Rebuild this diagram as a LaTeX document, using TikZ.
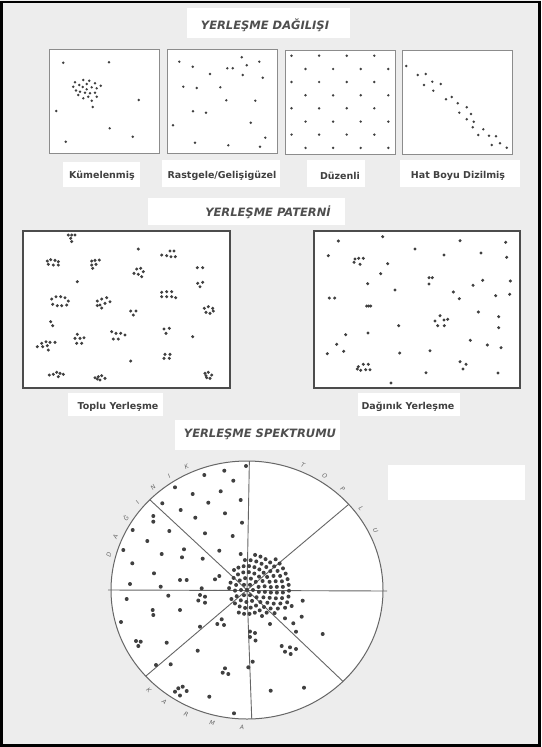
\documentclass[tikz,border=0pt]{standalone}
\usepackage{fontspec}
\setmainfont{DejaVu Sans}

\definecolor{paper}{HTML}{EDEDED}
\definecolor{ink}{HTML}{404040}
\definecolor{headink}{HTML}{4E4E4E}
\definecolor{framegray}{HTML}{8C8C8C}

\begin{document}
\begin{tikzpicture}[x=1pt, y=-1pt,
    heading/.style={font=\fontsize{11.5}{13}\selectfont\bfseries\itshape, text=headink},
    caption/.style={font=\fontsize{9.5}{12}\selectfont\bfseries, text=ink},
    paperpatch/.style={fill=white},
    panel/.style={draw=framegray, line width=1pt, fill=white, inner sep=0pt},
    bigpanel/.style={draw=black!70, line width=1.2pt, fill=white, inner sep=0pt},
    spoke/.style={draw=black!60, line width=0.9pt},
    ringletter/.style={font=\fontsize{6}{7}\selectfont\itshape, text=black!60, inner sep=0pt},
    pdot/.style={fill=black!75},
]
    \useasboundingbox (0,0) rectangle (541,747);
    \fill[paper] (0,0) rectangle (541,747);
    \draw[line width=2.5pt] (1.5,2) rectangle (539.5,745.5);

    % white strips behind the texts
    \fill[paperpatch] (187,8) rectangle (350,38);
    \fill[paperpatch] (63,162) rectangle (140,187);
    \fill[paperpatch] (162,160) rectangle (280,187);
    \fill[paperpatch] (307,160) rectangle (365,187);
    \fill[paperpatch] (400,160) rectangle (520,187);
    \fill[paperpatch] (148,198) rectangle (345,225);
    \fill[paperpatch] (68,393) rectangle (163,416);
    \fill[paperpatch] (358,393) rectangle (460,416);
    \fill[paperpatch] (175,420) rectangle (340,450);
    \fill[paperpatch] (388,465) rectangle (525,500);

    % titles
    \node[heading] (titleDist) at (265,25) {YERLEŞME DAĞILIŞI};
    \node[heading] (titlePat) at (268,212) {YERLEŞME PATERNİ};
    \node[heading] (titleSpec) at (260,434) {YERLEŞME SPEKTRUMU};

    % distribution panels
    \node[panel, minimum width=110pt, minimum height=104pt] (kume) at (104,101) {};
    \node[panel, minimum width=110pt, minimum height=104pt] (rast) at (222,101) {};
    \node[panel, minimum width=110pt, minimum height=104pt] (duz) at (340,102) {};
    \node[panel, minimum width=110pt, minimum height=104pt] (hat) at (457,102) {};

    \node[caption] (kumeLbl) at (102,176) {Kümelenmiş};
    \node[caption] (rastLbl) at (222,176) {Rastgele/Gelişigüzel};
    \node[caption] (duzLbl) at (340,176) {Düzenli};
    \node[caption] (hatLbl) at (458,176) {Hat Boyu Dizilmiş};

    % Kumelenmis
    \foreach \p in {(63.3,62.7),(109,62.3),(138.7,100),(56.3,111),(109.7,128.3),(132.7,136.7),(65.7,141.7),(92.7,107),
        (75,82.3),(73.3,86.7),(76,90.5),(79.3,85),(83.3,80),(89.3,80.7),(95,83.3),(100.7,85.7),(82.7,87),(86.7,89.3),
        (91.7,87.3),(96.7,88.3),(80,91.7),(85,92.7),(90,93.3),(95,92.7),(78.3,95),(83.3,98.3),(88.3,96.7),(91.7,100.7),
        (96.7,96.7),(86.7,84)}
        \fill[pdot] \p circle (1.35pt);

    % Rastgele
    \foreach \p in {(179.3,61.7),(192.7,66.7),(241.7,57.3),(246.7,65.3),(259.3,61.7),(227.3,68.3),(232.7,68.3),(210,74),
        (242.7,75),(262.7,77.7),(183.3,86.7),(196.7,88),(220.3,87.3),(226.3,100.3),(255.3,100.7),(193,111.3),(206,112.7),
        (173,125.3),(250.7,122.7),(265.3,137.7),(195,142.7),(228.3,145.3),(260,146.7)}
        \fill[pdot] \p circle (1.35pt);

    % Duzenli
    \foreach \i in {0,...,3}
        \foreach \j in {0,...,3} {
            \fill[pdot] ({291.5+27.6*\j},{55.7+26.3*\i}) circle (1.35pt);
            \fill[pdot] ({305.5+27.6*\j},{69+26.3*\i}) circle (1.35pt);
        }

    % Hat boyu
    \foreach \p in {(406.3,66),(417.7,75),(425.7,74),(424,85),(432.3,81.7),(433.3,90.7),(440.7,84),(446,99.3),
        (451.7,97),(457.7,103.3),(459.3,112.7),(466.7,107.3),(471,114),(466.7,119.3),(473.7,121.7),(472.7,127.3),
        (478.3,135),(483.3,129.3),(489,135.7),(496,136.3),(491.7,145),(500,143.3),(506.7,147.7)}
        \fill[pdot] \p circle (1.35pt);

    % pattern panels
    \node[bigpanel, minimum width=207pt, minimum height=157pt] (toplu) at (126.5,309.5) {};
    \node[bigpanel, minimum width=206pt, minimum height=157pt] (daginik) at (417,309.5) {};

    \node[caption] (topluLbl) at (118,407) {Toplu Yerleşme};
    \node[caption] (daginikLbl) at (408,407) {Dağınık Yerleşme};

    % Toplu
    \foreach \p in {(68.3,235),(71.7,235),(75,235),(70.7,238.3),(71.7,241.5),
        (138.3,249),
        (170,251),(174,251),(161.7,255),(166.7,255.7),(171,256.7),(175.3,256.7),
        (47.3,261),(50.7,259.7),(55,260.3),(58.3,261.7),(48.3,264.3),(53.3,265),(58.3,265),
        (91.7,261),(95,260.3),(99.3,260),(91.7,265),(96,264.3),(92.7,268.3),
        (134,273.3),(136.7,269),(140.7,268.3),(143.3,271.7),(138.3,274.3),(141.7,276.7),
        (197.3,267.7),(202.7,267.7),
        (197.7,283.3),(202.7,282.3),(200,286.7),
        (77.3,281.7),
        (51.7,299),(56,296.7),(60.7,296.7),(65,297.7),(68.3,301),(66.7,305),(61.7,305.7),(57.3,305.7),(52.7,304.3),
        (97.3,301),(101.7,299),(106.7,297.7),(110,301.7),(105,303.3),(100,305),(97.3,305.5),(101.7,308),
        (161.7,292.3),(166.7,291.7),(171.7,291.7),(161.7,296.7),(166.7,296.7),(171.7,296.7),(175.7,297.7),
        (130.7,311),(136,311),(133.3,315),
        (204.3,308.3),(208.3,306.7),(212.7,308.3),(206,312.3),(210,313.3),(213.3,311),
        (50.7,321.7),(52.7,325.7),
        (37.3,346.7),(41.7,343.3),(46,341.7),(50,342.3),(55,342.3),(42.7,346.7),(47.3,345.7),(48.3,350),
        (77.3,334.3),(75,338.3),(80,338.3),(84,337.7),(76.7,343.3),(81.7,343.3),
        (111.7,331.7),(116,333.3),(120.7,333.3),(125,335),(113.3,339),(118.3,339),
        (164,329),(169.3,328.3),(166,333.3),
        (192.7,336.7),
        (165,354.3),(170,354.3),(164,358.3),(169.3,358.3),
        (130.7,361),
        (49.3,375),(53.3,374.3),(56.7,372.3),(60,373.3),(63.3,374.3),(58.3,376.7),
        (95,377.7),(98.3,376.7),(101.7,375.7),(105,378.3),(100,380),(97.3,379),
        (205,373.3),(208.3,372.3),(211.7,375),(206.7,377.7),(210,378.3),(206,375.7)}
        \fill[pdot] \p circle (1.7pt);

    % Daginik
    \foreach \p in {(338.3,241),(382.7,236.7),(460,240.7),(505.7,242.3),(328.3,255.7),(415,249),(444,255),(481,253),
        (506.7,257.3),(387.7,263.7),(380.7,273.7),(367.7,283.7),(395,290),(482.7,280.3),(473,285.3),(510.3,281),
        (453.3,292),(459.3,298.7),(495.7,295.7),(509.7,294.3),(478.3,312),(498.7,316.7),(498.7,327.7),(398.7,325.7),
        (368,333),(345.7,334.7),(336.7,344.3),(343.7,351.3),(327.3,353.7),(399.7,353),(430,350.7),(470.3,340.3),
        (487.3,345),(501,347.7),(426,372.7),(391,383),(498,373),
        (355,259),(358.7,258.3),(363.3,258.3),(354,262.3),(360,264.3),
        (429,277.7),(432.3,277.7),(429,284),
        (329.3,298),(334.7,298),
        (366.7,306),(368.7,306),(370.7,306),
        (435,321),(440,315.7),(444,320),(447.7,319.3),(437.7,325.7),(444.3,325.7),
        (358.3,366.7),(363.3,364.3),(368.3,364.3),(360.7,370.3),(365.7,369.7),(370,369.7),(357.3,369),
        (460,361.7),(466,364.3),(463,369)}
        \fill[pdot] \p circle (1.7pt);

    % spectrum wheel
    \coordinate (c) at (247,590);
    \coordinate (w) at (108,590);
    \coordinate (e) at (387,591);
    \draw[spoke, fill=white, line width=1pt] (c) ellipse [x radius=136, y radius=129];
    \draw[spoke] (w) -- (e);
    \foreach \ang in {89,135.6,221.9,272,314.9,41.6}
        \draw[spoke] (c) -- ([shift={(-\ang:136 and 129)}]c);

    \foreach \ch/\ang in {D/165,A/157,Ğ/148,I/140,N/131,I/123,K/115}
        \node[ringletter, rotate={\ang-90}] (dg\ang) at ([shift={(-\ang:143 and 136)}]c) {\ch};
    \foreach \ch/\ang in {T/67,O/57,P/48,L/37,U/26}
        \node[ringletter, rotate={\ang-90}] (tp\ang) at ([shift={(-\ang:143 and 136)}]c) {\ch};
    \foreach \ch/\ang in {K/227,A/235,R/245,M/256,A/268}
        \node[ringletter, rotate={\ang+90}] (km\ang) at ([shift={(-\ang:144 and 137)}]c) {\ch};

    % scattered dots
    \foreach \p in {(246,466),(224.3,470.7),(204.3,475),(233.3,480.7),(175,487.3),(220.7,491.3),(192.7,494),(240.7,500),
        (208.3,502.7),(162.3,503.3),(180.7,510),(225,513.3),(195.3,517.7),(242,522.7),(205,533.3),(232.7,536),
        (219.3,550.7),(240.7,554),(234,570),
        (153.3,516),(153.3,521.7),(132.7,530),(169.3,531),(147.3,541),(123.3,550),(184,549.3),(161.7,554),
        (182,557.3),(202.7,558.7),(132.3,563.3),(154,573.3),(180,580),(186.7,580),(130,584),(160.7,586.7),
        (215,579.3),(219.3,576),(201.7,588.3),
        (168.3,595.7),(126.7,599),(200,595),(205,596.7),(198.3,600.5),(205,602.7),(152.7,610),(153.3,615),
        (180,610),(121,622),(200,626.7),(136,641),(140.7,641.7),(138.3,646),(166.7,642.7),(156,665),
        (221.7,619.3),(217.3,624),(224,625),(197.7,650.7),(170.7,664.3),(178.3,688.3),(182.7,686.7),(186.7,691),
        (175,691.7),(180,695.5),(209.3,696.7),(234,713.3),(225,668.3),(222.7,672.7),(228.3,674),
        (250,631.5),(255,633),(250,637),(255.5,640.5),(252.7,661.7),(248.3,667.3),(270.7,690.7),(270,624),
        (281.7,646),(285,651.7),(290,647.3),(296,649),(290.7,654),(304,687.7),
        (285,618.3),(293.3,623.3),(296,631.7),(301.7,616.7),(291.7,606),(302.7,600.7),(322.7,634)}
        \fill[pdot] \p circle (2pt);

    % dense core
    \fill[pdot] (c) circle (2pt);
    \foreach \t in {0,60,...,300}
        \fill[pdot] ([shift={(-\t:6)}]c) circle (2pt);
    \foreach \t in {15,43,...,360}
        \fill[pdot] ([shift={(-\t:12)}]c) circle (2pt);
    \foreach \t in {-150,-132,...,180}
        \fill[pdot] ([shift={(-\t:18)}]c) circle (2pt);
    \foreach \t in {-110,-97,...,120}
        \fill[pdot] ([shift={(-\t:24)}]c) circle (2pt);
    \foreach \t in {-60,-49,...,95}
        \fill[pdot] ([shift={(-\t:30)}]c) circle (2pt);
    \foreach \t in {-40,-31,...,80}
        \fill[pdot] ([shift={(-\t:36)}]c) circle (2pt);
    \foreach \t in {-25,-17,...,47}
        \fill[pdot] ([shift={(-\t:42)}]c) circle (2pt);
\end{tikzpicture}
\end{document}
